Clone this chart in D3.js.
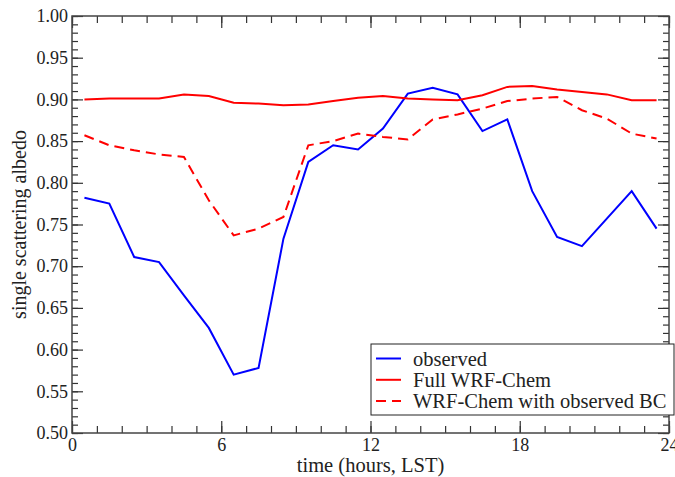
<!DOCTYPE html>
<html>
<head>
<meta charset="utf-8">
<script src="https://cdn.jsdelivr.net/npm/d3@7"></script>
<style>
  body { margin: 0; background: #fff; }
  text { font-family: "Liberation Serif", "Times New Roman", serif; fill: #222; }
</style>
</head>
<body>
<div id="chart"></div>
<script>
var width = 675
var height = 477
var margin = {top: 16, right: 6, bottom: 44, left: 72}

// hours (LST), half-hour centred
var hours = [0.5, 1.5, 2.5, 3.5, 4.5, 5.5, 6.5, 7.5, 8.5, 9.5, 10.5, 11.5,
             12.5, 13.5, 14.5, 15.5, 16.5, 17.5, 18.5, 19.5, 20.5, 21.5, 22.5, 23.5]

var observed = [0.782, 0.775, 0.711, 0.705, 0.665, 0.626, 0.570, 0.578, 0.733, 0.825, 0.845, 0.840,
                0.865, 0.907, 0.914, 0.906, 0.862, 0.876, 0.790, 0.735, 0.724, 0.757, 0.790, 0.745]

var fullWrf = [0.900, 0.901, 0.901, 0.901, 0.906, 0.904, 0.896, 0.895, 0.893, 0.894, 0.898, 0.902,
               0.904, 0.901, 0.900, 0.899, 0.905, 0.915, 0.916, 0.912, 0.909, 0.906, 0.899, 0.899]

var wrfObsBC = [0.857, 0.845, 0.839, 0.834, 0.831, 0.779, 0.737, 0.745, 0.759, 0.845, 0.850, 0.859,
                0.855, 0.852, 0.876, 0.882, 0.889, 0.898, 0.901, 0.903, 0.887, 0.877, 0.859, 0.853]

var xMajor = [0, 6, 12, 18, 24]
var yMajor = [0.50, 0.55, 0.60, 0.65, 0.70, 0.75, 0.80, 0.85, 0.90, 0.95, 1.00]

var series = [
  {name: "observed", values: observed, color: "#0000ff", dash: null},
  {name: "Full WRF-Chem", values: fullWrf, color: "#ff0000", dash: null},
  {name: "WRF-Chem with observed BC", values: wrfObsBC, color: "#ff0000", dash: "10,6"}
]

var svg = d3.select("#chart").append("svg")
    .attr("width", width)
    .attr("height", height)

var x = d3.scaleLinear().domain([0, 24]).range([margin.left, width - margin.right - 0])
var y = d3.scaleLinear().domain([0.5, 1.0]).range([height - margin.bottom, margin.top])

var xMinor = d3.range(0, 25, 1)
var yMinor = d3.range(50, 101, 1).map(function(d) { return d / 100 })

function styleAxis(g) {
  g.select(".domain").remove()
  g.selectAll(".tick line").attr("stroke", "#333").attr("stroke-width", 1.2)
  g.selectAll(".tick text").style("font-size", "18px")
}

// minor ticks
svg.append("g").attr("transform", "translate(0," + y(0.5) + ")")
  .call(d3.axisBottom(x).tickValues(xMinor).tickSizeInner(-7).tickSizeOuter(0).tickFormat(""))
  .call(styleAxis)
svg.append("g").attr("transform", "translate(0," + y(1.0) + ")")
  .call(d3.axisTop(x).tickValues(xMinor).tickSizeInner(-7).tickSizeOuter(0).tickFormat(""))
  .call(styleAxis)
svg.append("g").attr("transform", "translate(" + x(0) + ",0)")
  .call(d3.axisLeft(y).tickValues(yMinor).tickSizeInner(-6).tickSizeOuter(0).tickFormat(""))
  .call(styleAxis)
svg.append("g").attr("transform", "translate(" + x(24) + ",0)")
  .call(d3.axisRight(y).tickValues(yMinor).tickSizeInner(-6).tickSizeOuter(0).tickFormat(""))
  .call(styleAxis)

// major ticks with labels
svg.append("g").attr("transform", "translate(0," + y(0.5) + ")")
  .call(d3.axisBottom(x).tickValues(xMajor).tickSizeInner(-12).tickSizeOuter(0)
    .tickPadding(5).tickFormat(d3.format("d")))
  .call(styleAxis)
svg.append("g").attr("transform", "translate(0," + y(1.0) + ")")
  .call(d3.axisTop(x).tickValues(xMajor).tickSizeInner(-12).tickSizeOuter(0).tickFormat(""))
  .call(styleAxis)
svg.append("g").attr("transform", "translate(" + x(0) + ",0)")
  .call(d3.axisLeft(y).tickValues(yMajor).tickSizeInner(-11).tickSizeOuter(0)
    .tickPadding(4).tickFormat(d3.format(".2f")))
  .call(styleAxis)
svg.append("g").attr("transform", "translate(" + x(24) + ",0)")
  .call(d3.axisRight(y).tickValues(yMajor).tickSizeInner(-11).tickSizeOuter(0).tickFormat(""))
  .call(styleAxis)

// series lines
var line = d3.line()
  .x(function(d, i) { return x(hours[i]) })
  .y(function(d) { return y(d) })

svg.append("g").selectAll("path")
  .data(series)
  .enter().append("path")
  .attr("d", function(d) { return line(d.values) })
  .attr("fill", "none")
  .attr("stroke", function(d) { return d.color })
  .attr("stroke-width", 2)
  .attr("stroke-dasharray", function(d) { return d.dash })

// frame
svg.append("rect")
  .attr("x", x(0)).attr("y", y(1.0))
  .attr("width", x(24) - x(0)).attr("height", y(0.5) - y(1.0))
  .attr("fill", "none").attr("stroke", "#444").attr("stroke-width", 1.5)

// axis titles
svg.append("text")
  .attr("x", (x(0) + x(24)) / 2)
  .attr("y", 472)
  .attr("text-anchor", "middle")
  .style("font-size", "20.5px")
  .text("time (hours, LST)")

svg.append("text")
  .attr("transform", "translate(26," + ((y(0.5) + y(1.0)) / 2) + ") rotate(-90)")
  .attr("text-anchor", "middle")
  .style("font-size", "20px")
  .text("single scattering albedo")

// legend
var legend = svg.append("g").attr("transform", "translate(371,344)")
legend.append("rect")
  .attr("width", 303).attr("height", 71)
  .attr("fill", "#fff").attr("stroke", "#222").attr("stroke-width", 1)

var item = legend.selectAll(".item")
  .data(series)
  .enter().append("g")
  .attr("class", "item")
  .attr("transform", function(d, i) { return "translate(0," + (14.5 + i * 21.3) + ")" })

item.append("line")
  .attr("x1", 5).attr("x2", 30)
  .attr("stroke", function(d) { return d.color })
  .attr("stroke-width", 2)
  .attr("stroke-dasharray", function(d) { return d.dash })

item.append("text")
  .attr("x", 42)
  .attr("dy", "0.35em")
  .style("font-size", "20.5px")
  .text(function(d) { return d.name })
</script>
</body>
</html>
